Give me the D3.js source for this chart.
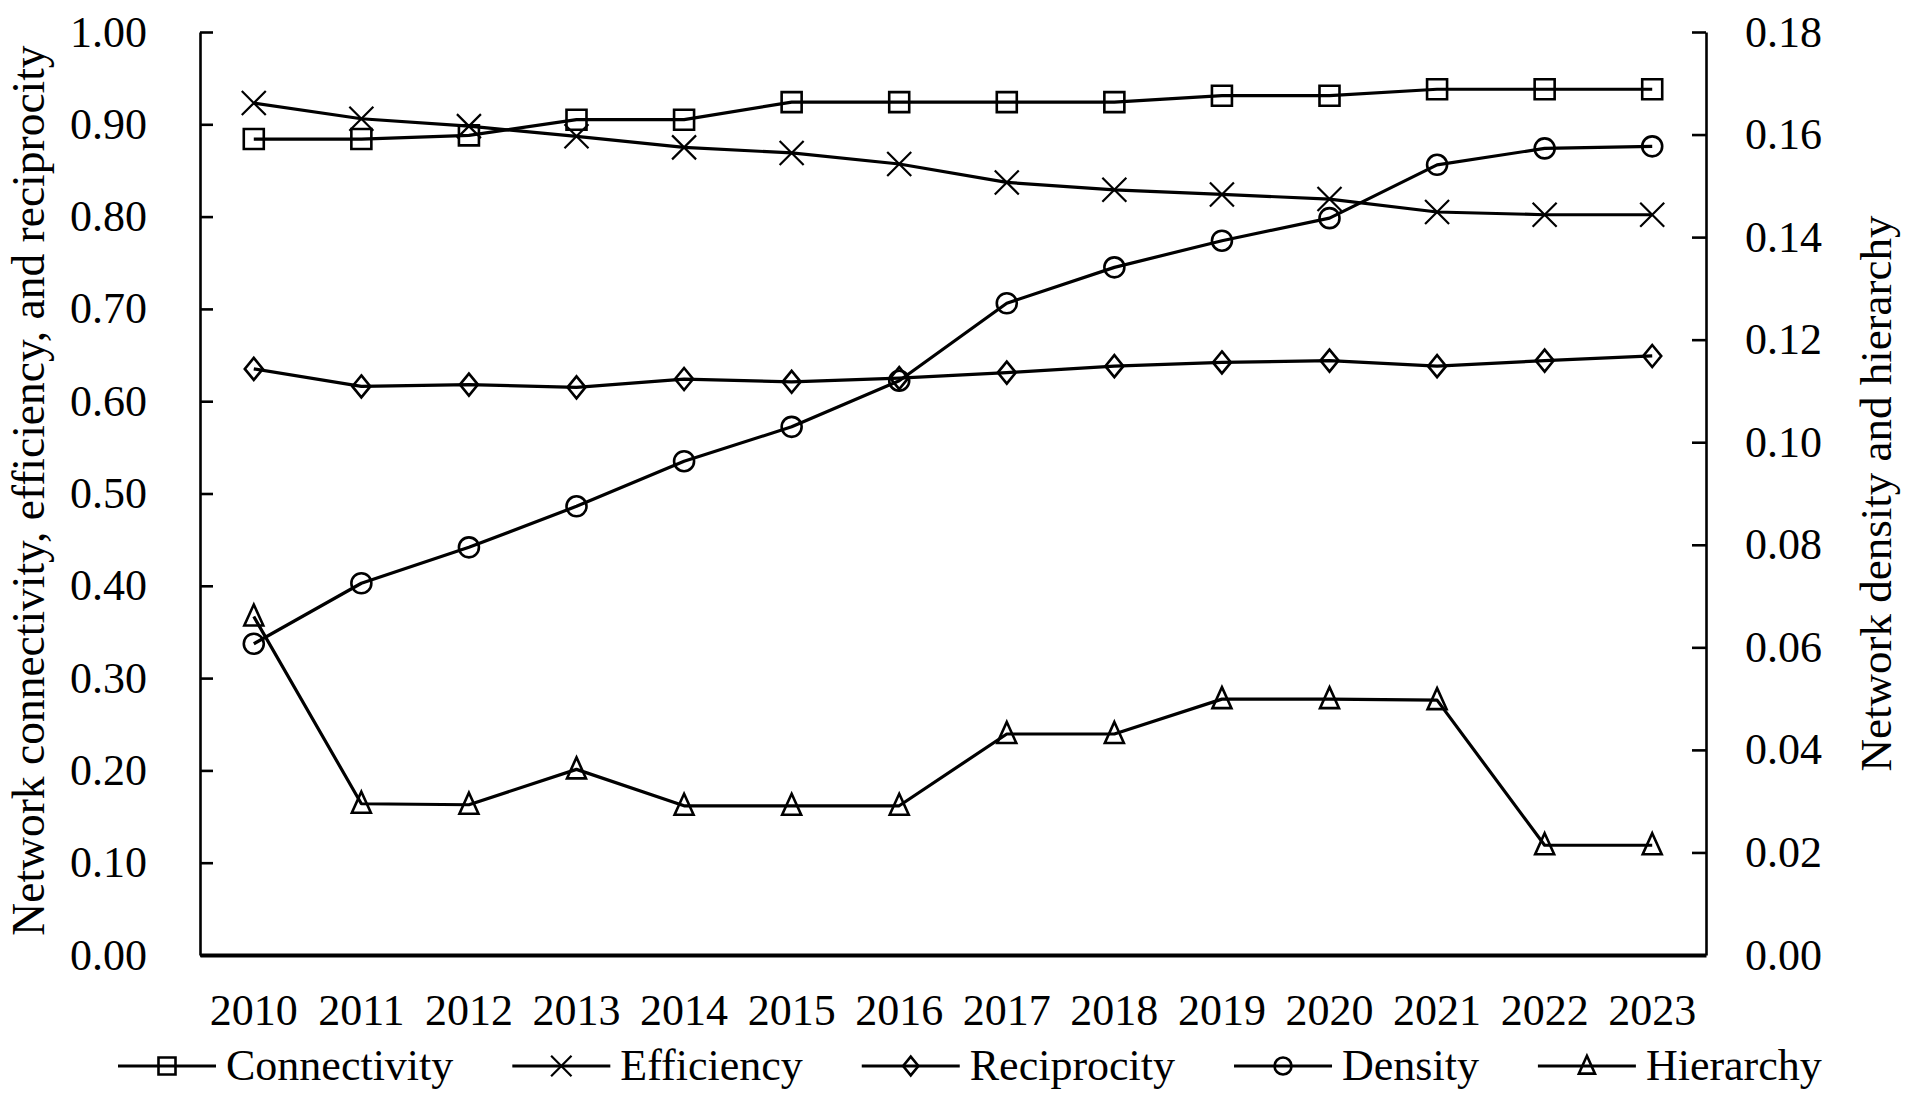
<!DOCTYPE html>
<html>
<head>
<meta charset="utf-8">
<script src="https://cdn.jsdelivr.net/npm/d3@7"></script>
<style>
  html, body { margin: 0; padding: 0; background: #fff; }
  svg text { font-family: "Liberation Serif", "Times New Roman", serif; fill: #000; }
</style>
</head>
<body>
<svg id="chart" width="1915" height="1105"></svg>
<script>
// values
const years = ["2010","2011","2012","2013","2014","2015","2016","2017","2018","2019","2020","2021","2022","2023"];
const connectivity = [0.884, 0.884, 0.888, 0.905, 0.905, 0.924, 0.924, 0.924, 0.924, 0.931, 0.931, 0.938, 0.938, 0.938];
const efficiency   = [0.923, 0.906, 0.898, 0.887, 0.875, 0.869, 0.857, 0.837, 0.829, 0.824, 0.819, 0.805, 0.802, 0.802];
const reciprocity  = [0.635, 0.616, 0.618, 0.615, 0.624, 0.621, 0.625, 0.631, 0.638, 0.642, 0.644, 0.638, 0.644, 0.649];
const density      = [0.0607, 0.0725, 0.0795, 0.0875, 0.0963, 0.1030, 0.1120, 0.1271, 0.1341, 0.1393, 0.1437, 0.1541, 0.1573, 0.1577];
const hierarchy    = [0.0660, 0.0295, 0.0293, 0.0362, 0.0291, 0.0291, 0.0291, 0.0431, 0.0431, 0.0499, 0.0499, 0.0497, 0.0214, 0.0214];
const leftTicks  = [0, 0.1, 0.2, 0.3, 0.4, 0.5, 0.6, 0.7, 0.8, 0.9, 1.0];
const rightTicks = [0, 0.02, 0.04, 0.06, 0.08, 0.10, 0.12, 0.14, 0.16, 0.18];

const series = [
  { name: "Connectivity", values: connectivity, axis: "left",  marker: "square" },
  { name: "Efficiency",   values: efficiency,   axis: "left",  marker: "cross" },
  { name: "Reciprocity",  values: reciprocity,  axis: "left",  marker: "diamond" },
  { name: "Density",      values: density,      axis: "right", marker: "circle" },
  { name: "Hierarchy",    values: hierarchy,    axis: "right", marker: "triangle" }
];

const FS = 44;
const plot = { left: 200, right: 1706, top: 32, bottom: 955 };

const svg = d3.select("#chart");

const x = d3.scaleBand().domain(years).range([plot.left, plot.right]).padding(0);
const yL = d3.scaleLinear().domain([0, 1]).range([plot.bottom, plot.top]);
const yR = d3.scaleLinear().domain([0, 0.18]).range([plot.bottom, plot.top]);
const cx = d => x(d) + x.bandwidth() / 2;

// marker shapes, drawn around 0,0
function markerPath(type) {
  switch (type) {
    case "square":   return "M-10,-10H10V10H-10Z";
    case "cross":    return "M-12,-12L12,12M-12,12L12,-12";
    case "diamond":  return "M0,-11L9,0L0,11L-9,0Z";
    case "circle":   return d3.arc()({ innerRadius: 0, outerRadius: 10, startAngle: 0, endAngle: 2 * Math.PI });
    case "triangle": return "M0,-12L9.5,9L-9.5,9Z";
  }
}
function markerStroke(type) { return type === "cross" ? 2.2 : 2.6; }

// left axis
const axL = svg.append("g")
  .attr("transform", `translate(${plot.left},0)`)
  .call(d3.axisLeft(yL).tickValues(leftTicks).tickFormat(d3.format(".2f"))
    .tickSizeInner(-13).tickSizeOuter(0).tickPadding(53));
// right axis
const axR = svg.append("g")
  .attr("transform", `translate(${plot.right},0)`)
  .call(d3.axisRight(yR).tickValues(rightTicks).tickFormat(d3.format(".2f"))
    .tickSizeInner(-14).tickSizeOuter(0).tickPadding(39));
[axL, axR].forEach(g => {
  g.select(".domain").attr("stroke", "#000").attr("stroke-width", 2.6);
  g.selectAll(".tick line").attr("stroke", "#000").attr("stroke-width", 2.6);
  g.selectAll(".tick text").attr("font-size", FS).attr("font-family", null);
  g.attr("font-family", null).attr("font-size", null);
});

// x axis: baseline only, no ticks
const axX = svg.append("g")
  .attr("transform", `translate(0,${plot.bottom})`)
  .call(d3.axisBottom(x).tickSize(0).tickPadding(70));
axX.attr("font-family", null).attr("font-size", null);
axX.select(".domain").attr("stroke", "#000").attr("stroke-width", 4);
axX.selectAll(".tick text").attr("font-size", FS).attr("dy", null).attr("y", 70);

// axis titles
svg.append("text")
  .attr("transform", `translate(44,${(plot.top + plot.bottom) / 2 - 3}) rotate(-90)`)
  .attr("text-anchor", "middle")
  .attr("font-size", 45.5)
  .text("Network connectivity, efficiency, and reciprocity");
svg.append("text")
  .attr("transform", `translate(1891,${(plot.top + plot.bottom) / 2}) rotate(-90)`)
  .attr("text-anchor", "middle")
  .attr("font-size", 45)
  .text("Network density and hierarchy");

// lines and markers
const lineGen = d3.line();
series.forEach(s => {
  const y = s.axis === "left" ? yL : yR;
  const pts = s.values.map((v, i) => [cx(years[i]), y(v)]);
  svg.append("path")
    .attr("d", lineGen(pts))
    .attr("fill", "none")
    .attr("stroke", "#000")
    .attr("stroke-width", 3.2)
    .attr("stroke-linejoin", "round");
  svg.append("g").selectAll("path")
    .data(pts)
    .join("path")
    .attr("transform", d => `translate(${d[0]},${d[1]})`)
    .attr("d", markerPath(s.marker))
    .attr("fill", "none")
    .attr("stroke", "#000")
    .attr("stroke-width", markerStroke(s.marker));
});

// legend
const legend = svg.append("g").attr("transform", "translate(0,1066)");
let lx = 118;
series.forEach(s => {
  const g = legend.append("g").attr("transform", `translate(${lx},0)`);
  g.append("line").attr("x1", 0).attr("x2", 98).attr("y1", 0).attr("y2", 0)
    .attr("stroke", "#000").attr("stroke-width", 3.2);
  g.append("path").attr("transform", "translate(49,0) scale(0.85)")
    .attr("d", markerPath(s.marker))
    .attr("fill", "none").attr("stroke", "#000").attr("stroke-width", markerStroke(s.marker) / 0.85);
  const t = g.append("text").attr("x", 108).attr("y", 14).attr("font-size", FS).text(s.name);
  lx += 108 + t.node().getComputedTextLength() + 59;
});
</script>
</body>
</html>
